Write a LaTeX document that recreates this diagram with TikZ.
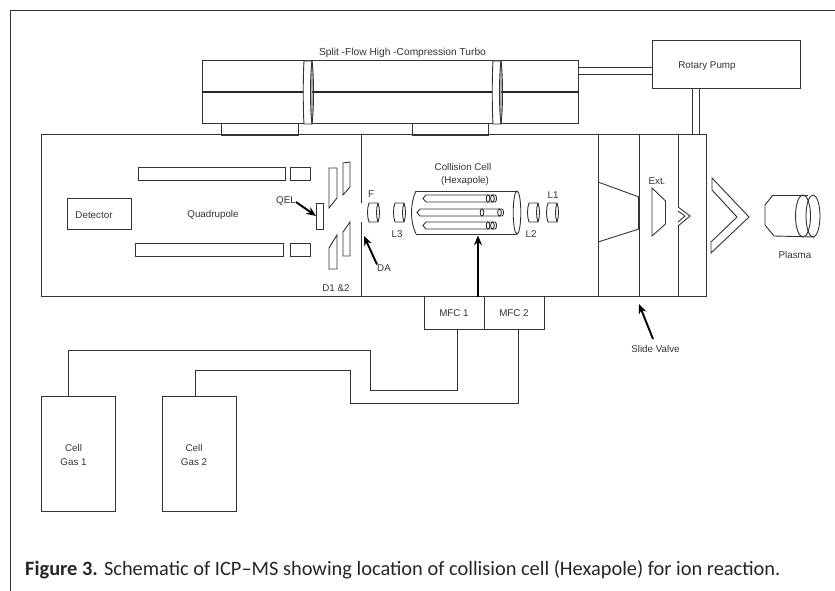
\documentclass[tikz,border=0pt]{standalone}
\usepackage{fontspec}
\setmainfont{Liberation Sans}
\newfontfamily\capfont{Carlito}
\usetikzlibrary{arrows.meta,positioning,calc}
\definecolor{ink}{gray}{0.2}
\begin{document}
\begin{tikzpicture}[x=1pt,y=-1pt,every node/.style={font=\fontsize{9.8}{11}\selectfont,text=ink,inner sep=0pt},
 box/.style={draw=ink,line width=1pt,minimum width=#1},
 pipe/.style={draw=ink,line width=1pt},
 part/.style={draw=ink,line width=0.9pt},
 arr/.style={-{Stealth[length=3.4mm,width=2.8mm]},line width=1.9pt,draw=black}]
\useasboundingbox (0,0) rectangle (835,591);
\draw[part] (10,591)--(10,10)--(835,10);

\node[box=376,minimum height=63] (turbo) at (390,92.5) {};
\node[box=77,minimum height=12,fill=white] (pad1) at (259.5,130) {};
\node[box=76,minimum height=12,fill=white] (pad2) at (450,130) {};
\draw[line width=2pt,draw=black!85] (turbo.west)--(turbo.east);
\foreach \x in {303,492}{
 \draw[part,fill=white] (\x+1,61)..controls (\x,75) and (\x,110)..(\x+1,124)--(\x+9,124)--(\x+9,61)--cycle;
 \draw[part] (\x+9,61)..controls (\x+11,75) and (\x+11,110)..(\x+9,124);
 \draw[part] (\x+9,61)..controls (\x+7,75) and (\x+7,110)..(\x+9,124);}
\node[above=3pt of turbo.north,xshift=12.5pt,font=\fontsize{10.2}{11}\selectfont] (turbolab) {Split -Flow High -Compression Turbo};

\node[box=148,minimum height=47.5] (rotary) at (726,64.5) {};
\node (rotarylab) at (707,66) {Rotary Pump};
\coordinate (ra) at (rotary.west |- 0,67.5); \coordinate (rb) at (rotary.west |- 0,74.5);
\draw[pipe] (ra)--(ra -| turbo.east) (rb)--(rb -| turbo.east);
\coordinate (rc) at (692,88); \coordinate (rd) at (699,88);
\draw[pipe] (rc)--(692,134.5) (rd)--(699,134.5);

\node[box=665,minimum height=161.5] (main) at (373.5,215.25) {};
\draw[part] (361,134.5)--(361,203) (361,222)--(361,296);
\foreach \x in {598,639}{\draw[part] (\x,134.5)--(\x,296);}
\draw[part] (678,134.5)--(678,207) (678,226)--(678,296);

\node[box=147,minimum height=13] (rod1) at (211.5,173.5) {};
\node[box=148,minimum height=13] (rod2) at (209,249.75) {};
\node[box=19.5,minimum height=13] (rod3) at (300.25,173.5) {};
\node[box=19.5,minimum height=13] (rod4) at (300.25,249.75) {};
\node[box=64,minimum height=31] (detector) at (99.5,213.5) {};
\node (detlab) at (94,215) {Detector};
\node (quadlab) at (213,215) {Quadrupole};
\node[box=6.5,minimum height=26] (qelbox) at (319.75,216) {};
\node (qel) at (286,201) {QEL};
\draw[arr] (qel.east)++(0,1) -- (qelbox.west);

\draw[part] (329,168)--(337,168)--(337,198)--(329,208)--cycle;
\draw[part] (343,163)--(350,162)--(350,187)--(343,195)--cycle;
\draw[part] (329,248)--(337,235)--(337,269)--(329,269)--cycle;
\draw[part] (343,232)--(350,222)--(350,256)--(343,256)--cycle;
\node (d12) at (336,288) {D1 \&2};
\node (da) at (384,268) {DA};
\coordinate (datip) at (364,236);
\draw[arr] (da.north west)--(datip);

\foreach \x/\n in {367/f,393/l3,527/l2,546/l1}{
 \draw[part] (\x+2,203)--(\x+11,203)..controls (\x+13,208) and (\x+13,217)..(\x+11,222)--(\x+2,222)..controls (\x,217) and (\x,208)..(\x+2,203);
 \draw[part] (\x+11,203)..controls (\x+9,208) and (\x+9,217)..(\x+11,222);}
\node (flab) at (371,194) {F};
\node (l3lab) at (397,234) {L3};
\node (l2lab) at (531,234.5) {L2};
\node (l1lab) at (553,195) {L1};

\draw[part] (416,191)--(517,191) (416,234)--(517,234);
\draw[part] (416,191)..controls (410,203) and (410,222)..(416,234);
\draw[part] (517,212.5) ellipse (3.8 and 21.5);
\foreach \y/\a/\b/\k in {198.5/423/497/0,212.5/417/504/-13,225.5/423/497/0}{
 \draw[part] (\a+3,\y-3.5)--(\b-2,\y-3.5)..controls (\b,\y-3.5) and (\b,\y+3.5)..(\b-2,\y+3.5)--(\a+3,\y+3.5)--(\a,\y)--cycle;
 \draw[part] (\b-9+\k,\y) ellipse (1.8 and 3.5);
 \draw[part] (\b-4.5+\k*0,\y) ellipse (1.8 and 3.5);}
\node (colllab) at (463,167) {Collision Cell};
\node (hexlab) at (465,181) {(Hexapole)};

\draw[part] (598,182)--(639,197)--(639,229)--(598,242);
\draw[line width=1.3pt,draw=ink] (639,197)--(639,229);
\draw[part] (652,188)--(665.5,201)--(665.5,224)--(652,236)--cycle;
\node (extlab) at (657,181) {Ext.};
\draw[part] (678,207)--(690,216)--(678,226) (678,211)--(685,216)--(678,222);
\draw[part] (712,178)--(749,217)--(711,253)--(711,242)--(737,217)--(712,190)--cycle;
\draw[part] (773,195)--(765,205)--(765,225)--(774,236)--(815,237);
\draw[part] (773,195)--(808,195);
\draw[part] (803,216) ellipse (7.5 and 21);
\draw[part] (813,216) ellipse (7 and 21);
\node (plasmalab) at (795,255) {Plasma};

\node[box=60,minimum height=33.5] (mfc1) at (454,312.75) {MFC 1};
\node[box=60,minimum height=33.5] (mfc2) at (514,312.75) {MFC 2};
\coordinate (cellin) at (478,235.5);
\coordinate (cellout) at (478,297);
\draw[arr] (cellout)--(cellin);

\foreach \x/\n/\t in {78/1/73.5,199/2/194}{
 \node[box=74,minimum height=114.5] (gas\n) at (\x,453.75) {};
 \node[align=center,font=\fontsize{9.8}{14}\selectfont] (gaslab\n) at (\t,455) {Cell\\Gas \n};}
\draw[pipe] (mfc1.south -| 457,0)--(457,390)--(370,390)--(370,350)--(68,350)--(gas1.north -| 68,0);
\draw[pipe] (mfc2.south -| 518,0)--(518,403.7)--(350,403.7)--(350,370)--(195,370)--(gas2.north -| 195,0);

\node (valvelab) at (655.5,349) {Slide Valve};
\coordinate (valvetip) at (639,304);
\draw[arr] (653,339)--(valvetip);

\node[anchor=base west,font=\capfont\fontsize{20.4}{24}\selectfont,text=black!85] (captext) at (25,575) {\textbf{Figure 3.} Schematic of ICP–MS showing location of collision cell (Hexapole) for ion reaction.};
\end{tikzpicture}
\end{document}
